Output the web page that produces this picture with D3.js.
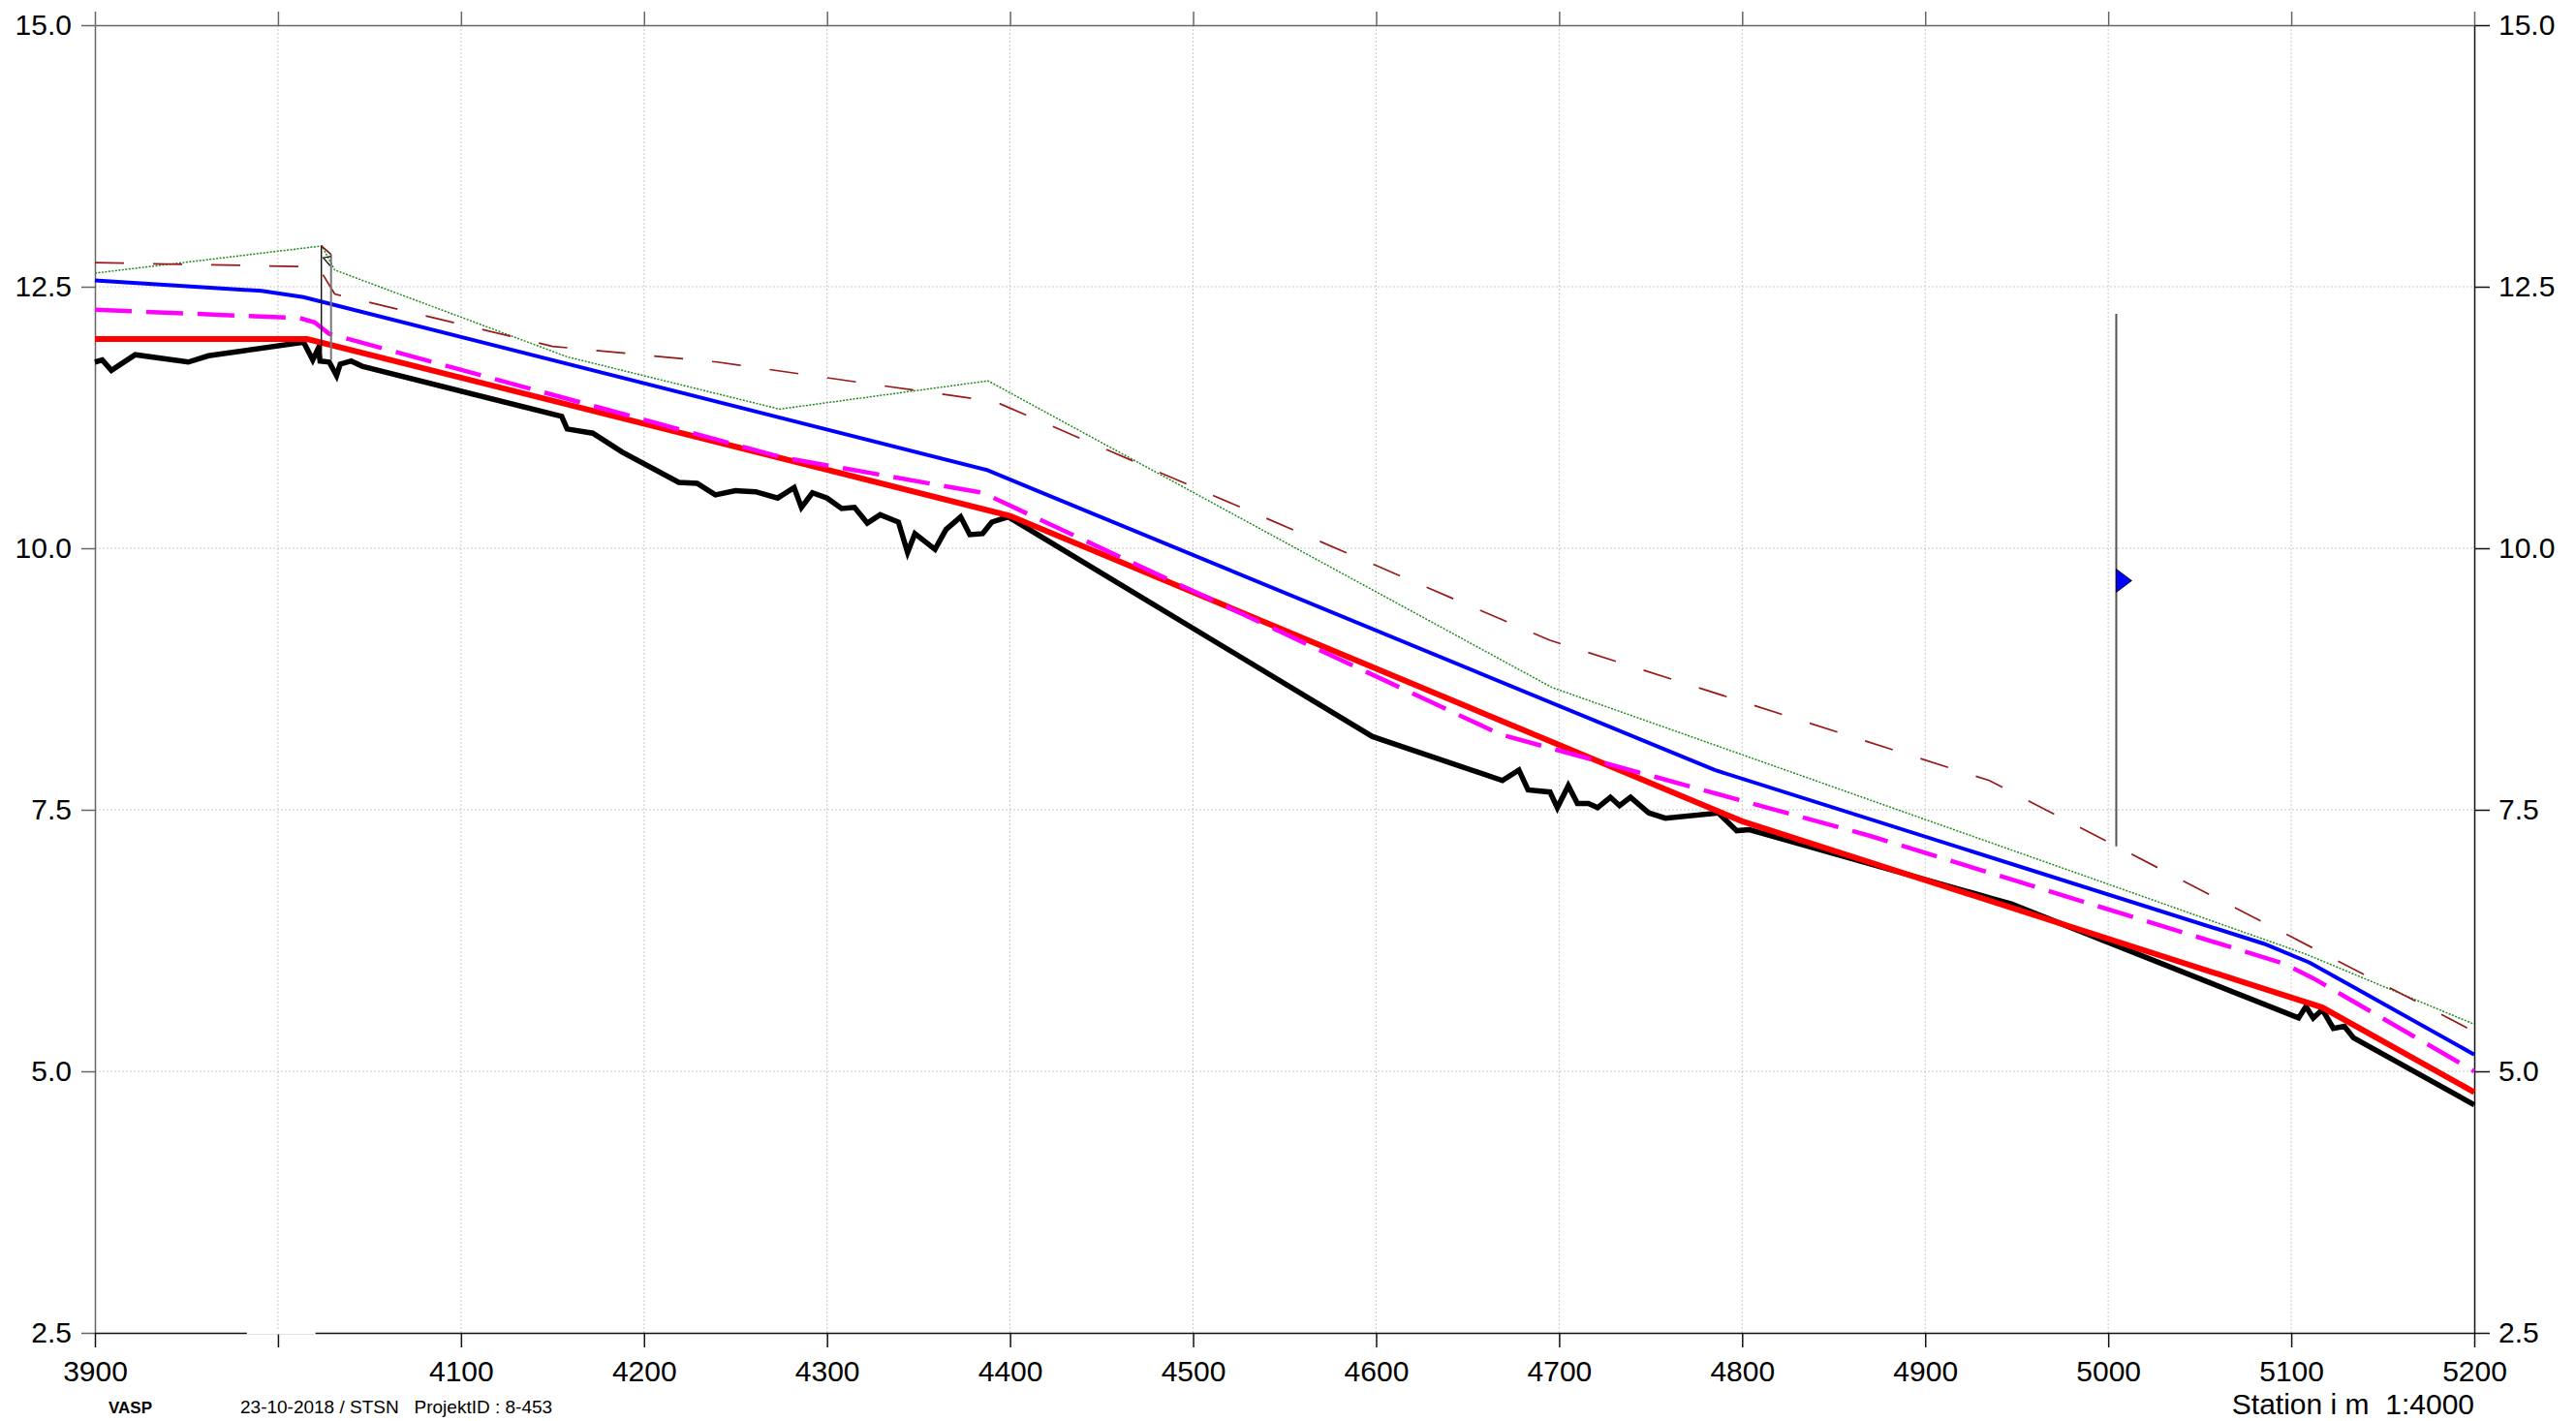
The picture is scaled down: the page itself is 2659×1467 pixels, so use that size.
<!DOCTYPE html>
<html>
<head>
<meta charset="utf-8">
<title>Længdeprofil</title>
<script src="https://cdn.jsdelivr.net/npm/d3@7"></script>
<style>
  html, body { margin: 0; padding: 0; background: #fff; }
  svg { display: block; font-family: "Liberation Sans", Arial, Helvetica, sans-serif; }
  text.pre { white-space: pre; }
</style>
</head>
<body>
<svg id="chart" width="2659" height="1467"></svg>
<script>
// Station (m) and level (m) pairs for each profile line
const terrain = [
  [3900,11.78],[3904,11.80],[3909,11.70],[3922,11.85],[3951,11.78],[3962,11.84],[4014,11.97],
  [4019,11.80],[4022,11.91],[4023,11.79],[4028,11.78],[4032,11.65],[4034,11.76],[4040,11.79],
  [4046,11.74],[4155,11.26],[4158,11.14],[4172,11.10],[4188,10.92],[4219,10.63],[4229,10.62],
  [4239,10.51],[4250,10.55],[4261,10.54],[4273,10.48],[4282,10.58],[4286,10.39],[4292,10.53],
  [4300,10.48],[4308,10.38],[4315,10.39],[4322,10.24],[4329,10.32],[4339,10.25],[4344,9.96],
  [4348,10.14],[4359,9.99],[4365,10.18],[4373,10.30],[4378,10.13],[4385,10.14],[4390,10.25],
  [4399,10.30],[4598,8.20],[4669,7.78],[4678,7.88],[4683,7.69],[4695,7.67],[4699,7.52],
  [4705,7.73],[4710,7.56],[4716,7.56],[4721,7.52],[4728,7.62],[4733,7.54],[4739,7.62],
  [4749,7.47],[4758,7.42],[4787,7.47],[4797,7.30],[4804,7.31],[4937,6.65],[4947,6.60],
  [5104,5.51],[5108,5.62],[5112,5.51],[5117,5.59],[5123,5.41],[5129,5.43],[5134,5.32],[5200,4.68]
];
const designBed = [[3900,12.00],[4016,12.00],[4400,10.31],[4800,7.39],[5117,5.61],[5200,4.80]];
const waterLevel = [[3900,12.56],[3991,12.46],[4014,12.40],[4387,10.75],[4785,7.88],[5085,6.22],[5110,6.04],[5200,5.16]];
const meanLevel = [[3900,12.28],[4012,12.20],[4020,12.16],[4028,12.05],[4275,10.87],[4385,10.53],[4668,8.22],[4870,7.25],[5096,6.03],[5112,5.89],[5200,5.00]];
const bankLeft = [[3900,12.63],[4024,12.89],[4031,12.66],[4158,11.83],[4274,11.33],[4388,11.60],[4696,8.67],[5108,6.12],[5200,5.45]];
const bankRight = [[3900,12.73],[4022,12.69],[4031,12.43],[4150,11.93],[4240,11.78],[4392,11.40],[4695,9.12],[4935,7.78],[5200,5.38]];

// Culvert at station ~4024
const culvertStations = [4023.7, 4029.0];
const culvertTop = [12.89, 12.81];
const culvertBase = 11.80;

// Gauge marker
const gaugeStation = 5004.4;
const gaugeRange = [7.15, 12.24];
const gaugeLevel = 9.69;

// Axis ticks
const xTicks = [3900,4000,4100,4200,4300,4400,4500,4600,4700,4800,4900,5000,5100,5200];
const xHiddenLabels = [4000];
const yTicks = [2.5,5.0,7.5,10.0,12.5,15.0];

const svg = d3.select("#chart");
const x = d3.scaleLinear().domain([3900, 5200]).range([98, 2554]);
const y = d3.scaleLinear().domain([2.5, 15]).range([1376, 26]);

// Grid
const grid = svg.append("g").attr("stroke", "#c9c9c9").attr("stroke-width", 1).attr("stroke-dasharray", "2,2");
grid.selectAll("line.v").data(xTicks.slice(1, -1)).join("line")
  .attr("x1", d => x(d)).attr("x2", d => x(d)).attr("y1", y(2.5)).attr("y2", y(15));
grid.selectAll("line.h").data(yTicks.slice(1, -1)).join("line")
  .attr("x1", x(3900)).attr("x2", x(5200)).attr("y1", d => y(d)).attr("y2", d => y(d));

// Axes
const fmt = d3.format(".1f");
const styleAxis = (g, color) => {
  g.selectAll(".domain").attr("stroke", color).attr("stroke-width", 1.5);
  g.selectAll(".tick line").attr("stroke", color).attr("stroke-width", 1.5);
  g.selectAll("text").attr("font-size", 30).attr("fill", "#000")
    .attr("font-family", "'Liberation Sans', Arial, sans-serif");
};
svg.append("g").attr("transform", `translate(${x(3900)},0)`)
  .call(d3.axisLeft(y).tickValues(yTicks).tickFormat(fmt).tickSize(14).tickSizeOuter(0).tickPadding(10))
  .call(g => styleAxis(g, "#666"));
svg.append("g").attr("transform", `translate(${x(5200)},0)`)
  .call(d3.axisRight(y).tickValues(yTicks).tickFormat(fmt).tickSize(16).tickSizeOuter(0).tickPadding(9))
  .call(g => styleAxis(g, "#111"));
svg.append("g").attr("transform", `translate(0,${y(15)})`)
  .call(d3.axisTop(x).tickValues(xTicks).tickFormat("").tickSize(14).tickSizeOuter(0))
  .call(g => styleAxis(g, "#666"));
svg.append("g").attr("transform", `translate(0,${y(2.5)})`)
  .call(d3.axisBottom(x).tickValues(xTicks).tickFormat(d => xHiddenLabels.includes(d) ? "" : d)
    .tickSize(15).tickSizeOuter(0).tickPadding(14))
  .call(g => styleAxis(g, "#111"));
// break in the bottom axis line around the 4000 tick
svg.append("rect").attr("x", x(3983)).attr("y", y(2.5) - 2).attr("width", x(4020.5) - x(3983)).attr("height", 3.5)
  .attr("fill", "#fff");

// Profile lines
const line = d3.line().x(d => x(d[0])).y(d => y(d[1]));
const series = [
  { data: terrain,    color: "#000000", width: 5.5, dash: null },
  { data: designBed,  color: "#ff0000", width: 6,   dash: null },
  { data: meanLevel,  color: "#ff00ff", width: 4.5, dash: "38,15" },
  { data: waterLevel, color: "#0000ff", width: 4,   dash: null },
  { data: bankLeft,   color: "#1f8a1f", width: 1.5, dash: "2,1.5" },
  { data: bankRight,  color: "#991a1a", width: 1.7, dash: "30,30" }
];
svg.append("g").selectAll("path").data(series).join("path")
  .attr("d", d => line(d.data))
  .attr("fill", "none")
  .attr("stroke", d => d.color)
  .attr("stroke-width", d => d.width)
  .attr("stroke-dasharray", d => d.dash)
  .attr("stroke-linejoin", "miter");

// Culvert
const cv = svg.append("g");
cv.append("line").attr("x1", x(culvertStations[0])).attr("x2", x(culvertStations[0]))
  .attr("y1", y(culvertTop[0])).attr("y2", y(culvertBase)).attr("stroke", "#111").attr("stroke-width", 1.4);
cv.append("line").attr("x1", x(culvertStations[1])).attr("x2", x(culvertStations[1]))
  .attr("y1", y(culvertTop[1])).attr("y2", y(culvertBase)).attr("stroke", "#777").attr("stroke-width", 2);
cv.append("line").attr("x1", x(culvertStations[0])).attr("x2", x(culvertStations[1]))
  .attr("y1", y(culvertTop[0])).attr("y2", y(culvertTop[1])).attr("stroke", "#7a1010").attr("stroke-width", 1.6);
const midTop = (culvertTop[0] + culvertTop[1]) / 2;
cv.append("path")
  .attr("d", d3.line()([
    [x(culvertStations[1]), y(culvertTop[1]) + 2],
    [x(culvertStations[0]) + 2, y(midTop) + 8],
    [x(culvertStations[1]) - 1, y(midTop) + 16]
  ]))
  .attr("fill", "none").attr("stroke", "#111").attr("stroke-width", 1.3);

// Gauge marker with flag
const gauge = svg.append("g");
gauge.append("line").attr("x1", x(gaugeStation)).attr("x2", x(gaugeStation))
  .attr("y1", y(gaugeRange[1])).attr("y2", y(gaugeRange[0]))
  .attr("stroke", "#555").attr("stroke-width", 2);
const gx = x(gaugeStation), gy = y(gaugeLevel);
gauge.append("path")
  .attr("d", `M${gx},${gy - 12} L${gx + 16},${gy} L${gx},${gy + 12} Z`)
  .attr("fill", "#0000ff").attr("stroke", "#000").attr("stroke-width", 0.8);

// Footer texts
svg.append("text").attr("class", "pre").attr("x", x(5200)).attr("y", 1460).attr("text-anchor", "end")
  .attr("font-size", 30).text("Station i m  1:4000");
svg.append("text").attr("x", 112).attr("y", 1459).attr("font-size", 17).attr("font-weight", "bold")
  .text("VASP");
svg.append("text").attr("class", "pre").attr("x", 248).attr("y", 1459).attr("font-size", 19)
  .text("23-10-2018 / STSN   ProjektID : 8-453");
</script>
</body>
</html>
